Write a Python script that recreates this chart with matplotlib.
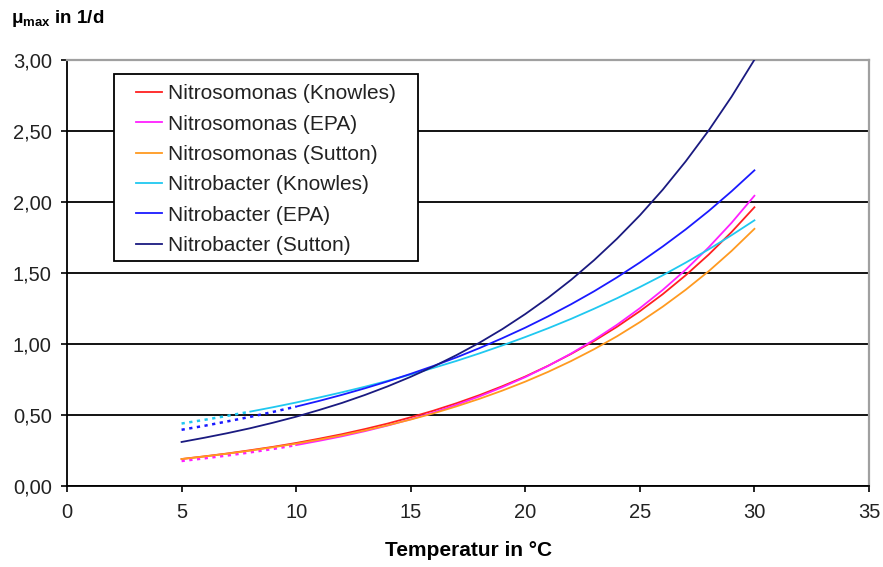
import numpy as np
import matplotlib
matplotlib.use("Agg")
import matplotlib.pyplot as plt
from matplotlib.patches import Rectangle
from matplotlib.ticker import FuncFormatter

plt.rcParams["font.family"] = ["Liberation Sans", "DejaVu Sans"]
plt.rcParams["mathtext.fontset"] = "custom"
plt.rcParams["mathtext.bf"] = "Liberation Sans:bold"
plt.rcParams["mathtext.rm"] = "Liberation Sans"

temperatur = list(range(5, 31))

nitrosomonas_knowles = [0.190, 0.209, 0.229, 0.252, 0.276, 0.303, 0.333, 0.365, 0.401,
                        0.440, 0.484, 0.531, 0.583, 0.640, 0.703, 0.771, 0.847, 0.930,
                        1.021, 1.121, 1.231, 1.351, 1.484, 1.629, 1.788, 1.963]
nitrosomonas_epa = [0.176, 0.195, 0.215, 0.237, 0.261, 0.288, 0.318, 0.350, 0.386,
                    0.426, 0.470, 0.518, 0.572, 0.631, 0.696, 0.767, 0.846, 0.933,
                    1.029, 1.135, 1.252, 1.381, 1.523, 1.680, 1.853, 2.044]
nitrosomonas_sutton = [0.190, 0.208, 0.228, 0.249, 0.273, 0.298, 0.326, 0.357, 0.391,
                       0.428, 0.468, 0.512, 0.561, 0.614, 0.672, 0.735, 0.804, 0.880,
                       0.963, 1.054, 1.154, 1.263, 1.382, 1.512, 1.655, 1.811]
nitrobacter_knowles = [0.440, 0.466, 0.494, 0.524, 0.555, 0.588, 0.623, 0.660, 0.699,
                       0.741, 0.785, 0.832, 0.881, 0.934, 0.990, 1.049, 1.111, 1.177,
                       1.248, 1.322, 1.401, 1.484, 1.573, 1.666, 1.766, 1.871]
nitrobacter_epa = [0.396, 0.424, 0.455, 0.487, 0.522, 0.559, 0.599, 0.642, 0.688,
                   0.737, 0.790, 0.846, 0.906, 0.971, 1.041, 1.115, 1.195, 1.280,
                   1.371, 1.469, 1.574, 1.687, 1.807, 1.936, 2.075, 2.223]
nitrobacter_sutton = [0.310, 0.340, 0.372, 0.407, 0.446, 0.488, 0.535, 0.585, 0.641,
                      0.702, 0.769, 0.842, 0.922, 1.009, 1.105, 1.211, 1.326, 1.452,
                      1.590, 1.741, 1.906, 2.087, 2.286, 2.503, 2.741, 3.002]

labels = ["Nitrosomonas (Knowles)", "Nitrosomonas (EPA)", "Nitrosomonas (Sutton)",
          "Nitrobacter (Knowles)", "Nitrobacter (EPA)", "Nitrobacter (Sutton)"]
colors = ["#ff2020", "#ff20ff", "#ff9a20", "#20c8f0", "#1a1aff", "#1a1a80"]
# Temperatur, bis zu der die Kurve gepunktet gezeichnet wird (None = durchgehend)
dotted_until = [None, 10, None, 8, 10, None]

series = [nitrosomonas_knowles, nitrosomonas_epa, nitrosomonas_sutton,
          nitrobacter_knowles, nitrobacter_epa, nitrobacter_sutton]

fig = plt.figure(figsize=(8.83, 5.67), dpi=100)
ax = fig.add_axes([67 / 883, 1 - 486 / 567, 802 / 883, 426 / 567])

T = np.array(temperatur)
handles = []
for values, lab, col, tdot in zip(series, labels, colors, dotted_until):
    v = np.array(values)
    if tdot is None:
        h, = ax.plot(T, v, color=col, lw=1.3, zorder=3)
    else:
        lo = T <= tdot
        hi = T >= tdot
        ax.plot(T[lo], v[lo], color=col, lw=1.8, ls=(0, (1.3, 1.8)), zorder=3)
        h, = ax.plot(T[hi], v[hi], color=col, lw=1.3, zorder=3)
    handles.append(h)

ax.set_xlim(0, 35)
ax.set_ylim(0, 3)
ax.set_xticks(range(0, 36, 5))
ax.set_yticks(np.arange(0, 3.01, 0.5))
ax.yaxis.set_major_formatter(FuncFormatter(lambda y, _: f"{y:.2f}".replace(".", ",")))

ax.set_axisbelow(True)
ax.grid(axis="y", color="black", lw=1.3)
ax.grid(axis="x", visible=False)

for side in ("left", "bottom"):
    ax.spines[side].set_color("black")
    ax.spines[side].set_linewidth(1.3)
for side in ("top", "right"):
    ax.spines[side].set_color("#a0a0a0")
    ax.spines[side].set_linewidth(1.6)

ax.tick_params(axis="both", direction="out", length=4, width=1.2, color="black",
               labelsize=14.5, labelcolor="#222222")
ax.tick_params(axis="x", pad=8)
ax.tick_params(axis="y", pad=7)

# Legendenrahmen
ax.add_patch(Rectangle((0.0586, 0.528), 0.379, 0.439, transform=ax.transAxes,
                       facecolor="white", edgecolor="black", lw=1.3, zorder=4))
leg = ax.legend(handles, labels, loc="upper left", bbox_to_anchor=(0.086, 0.943),
                frameon=False, fontsize=15, handlelength=1.25, handletextpad=0.29,
                labelspacing=0.545, borderaxespad=0, borderpad=0)
leg.set_zorder(5)
for t in leg.get_texts():
    t.set_color("#222222")

fig.text(0.012, 0.968, r"$\mathbf{μ_{max}}$ in 1/d", fontsize=13.5, fontweight="bold",
         va="center", ha="left")
fig.text(469 / 883, 1 - 551 / 567, "Temperatur in °C", fontsize=15, fontweight="bold",
         va="center", ha="center")

fig.savefig("out.png", dpi=100)
